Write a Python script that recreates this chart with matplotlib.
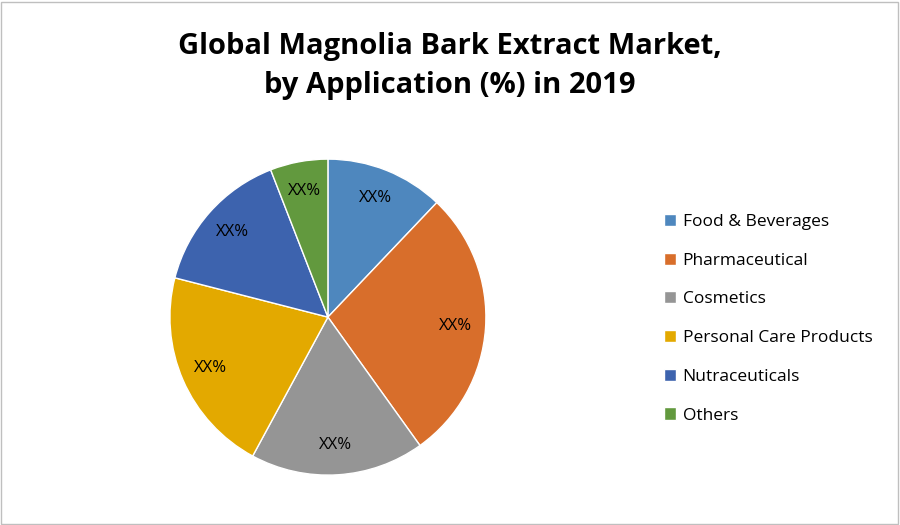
import matplotlib.pyplot as plt
from matplotlib.patches import Rectangle

categories = ["Food & Beverages", "Pharmaceutical", "Cosmetics",
              "Personal Care Products", "Nutraceuticals", "Others"]
shares = [12.1, 28.0, 17.8, 21.1, 15.1, 5.9]
colors = ["#4E87BE", "#D86E2B", "#959595", "#E3A900", "#3D63AE", "#62993E"]

plt.rcParams['font.family'] = ['Open Sans', 'DejaVu Sans']
fig = plt.figure(figsize=(9, 5.25), dpi=100)
fig.patches.append(Rectangle((0.001, 0.002), 0.997, 0.995, transform=fig.transFigure,
                             fill=False, edgecolor="#BFBFBF", lw=1))

fig.text(0.5, 0.875, "Global Magnolia Bark Extract Market,\nby Application (%) in 2019",
         ha="center", va="center", fontsize=21, fontweight="bold", linespacing=1.45)

ax = fig.add_axes([0.3644 - 0.1756, 0.396 - 0.301, 0.3511, 0.602])
wedges, texts, autotexts = ax.pie(shares, colors=colors, startangle=90, counterclock=False,
                                  autopct=lambda p: "XX%", pctdistance=0.81,
                                  wedgeprops=dict(edgecolor="white", linewidth=1),
                                  textprops=dict(fontsize=12, color="black"))
ax.set_aspect("equal")
ax.set_xlim(-1, 1)
ax.set_ylim(-1, 1)

fig.legend(wedges, categories, loc="center left", bbox_to_anchor=(0.72, 0.393),
           frameon=False, fontsize=12.5, handlelength=0.7, handleheight=0.7,
           handletextpad=0.4, labelspacing=1.3)

fig.savefig("out.png")
